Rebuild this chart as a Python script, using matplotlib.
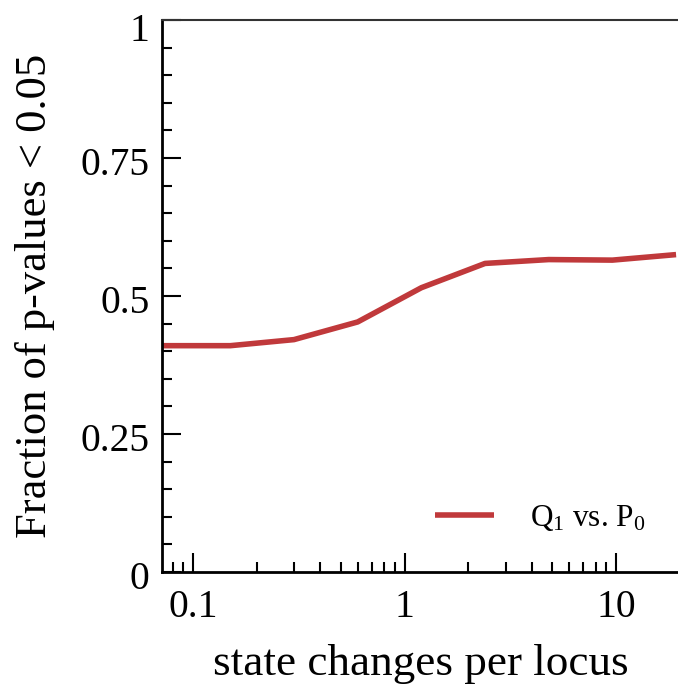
import matplotlib
matplotlib.use("Agg")
import matplotlib.pyplot as plt
import matplotlib.transforms as mtransforms
from matplotlib.ticker import LogLocator, MultipleLocator, FixedLocator, FixedFormatter, NullFormatter

plt.rcParams['font.family'] = ['Liberation Serif', 'DejaVu Serif']
plt.rcParams['mathtext.fontset'] = 'custom'
plt.rcParams['mathtext.rm'] = 'Liberation Serif'
plt.rcParams['mathtext.it'] = 'Liberation Serif:italic'

state_changes = [0.07, 0.15, 0.3, 0.6, 1.2, 2.4, 4.8, 9.6, 19.2]
fraction = [0.41, 0.41, 0.421, 0.453, 0.515, 0.559, 0.566, 0.565, 0.575]
series_label = 'Q$_1$ vs. P$_0$'
yticks = [0, 0.25, 0.5, 0.75, 1]
ytick_labels = ['0', '0.25', '0.5', '0.75', '1']
xticks = [0.1, 1, 10]
xtick_labels = ['0.1', '1', '10']

fig = plt.figure(figsize=(6.78, 6.94), dpi=100)
ax = fig.add_axes([162/678, 1 - 572/694, 1 - 162/678 + 0.002, (572 - 20)/694])

ax.plot(state_changes, fraction, color='#C0393B', lw=4.0, label=series_label,
        solid_capstyle='butt')
ax.set_xscale('log')
ax.set_xlim(0.0713, 19.9)
ax.set_ylim(0, 1)

ax.xaxis.set_major_locator(FixedLocator(xticks))
ax.xaxis.set_major_formatter(FixedFormatter(xtick_labels))
ax.xaxis.set_minor_locator(LogLocator(base=10, subs=range(2, 10)))
ax.xaxis.set_minor_formatter(NullFormatter())
ax.yaxis.set_major_locator(FixedLocator(yticks))
ax.yaxis.set_major_formatter(FixedFormatter(ytick_labels))
ax.yaxis.set_minor_locator(MultipleLocator(0.05))

ax.tick_params(which='both', direction='in', top=False, right=False,
               labelsize=28.5, width=1.5, color='black')
ax.tick_params(which='major', length=14)
ax.tick_params(which='minor', length=7)
ax.tick_params(axis='x', which='major', pad=12)
ax.tick_params(axis='y', which='major', pad=9)

# nudge y tick labels slightly down as in the reference
for lab in ax.get_yticklabels():
    dy = -7 if lab.get_text() == '1' else -3
    lab.set_transform(lab.get_transform() +
                      mtransforms.ScaledTranslation(0, dy / 100, fig.dpi_scale_trans))

ax.spines['right'].set_visible(False)
ax.spines['left'].set_linewidth(2)
ax.spines['bottom'].set_linewidth(2)
ax.spines['top'].set_linewidth(1.5)
ax.spines['top'].set_color('#333333')

ax.set_xlabel('state changes per locus', fontsize=32.5, labelpad=13)
ax.set_ylabel('Fraction of p-values < 0.05', fontsize=32, labelpad=18)

ax.legend(loc='lower right', bbox_to_anchor=(0.988, 0.02), frameon=False,
          fontsize=22.5, handlelength=1.9, handletextpad=1.14)

fig.savefig('out.png', dpi=100)
